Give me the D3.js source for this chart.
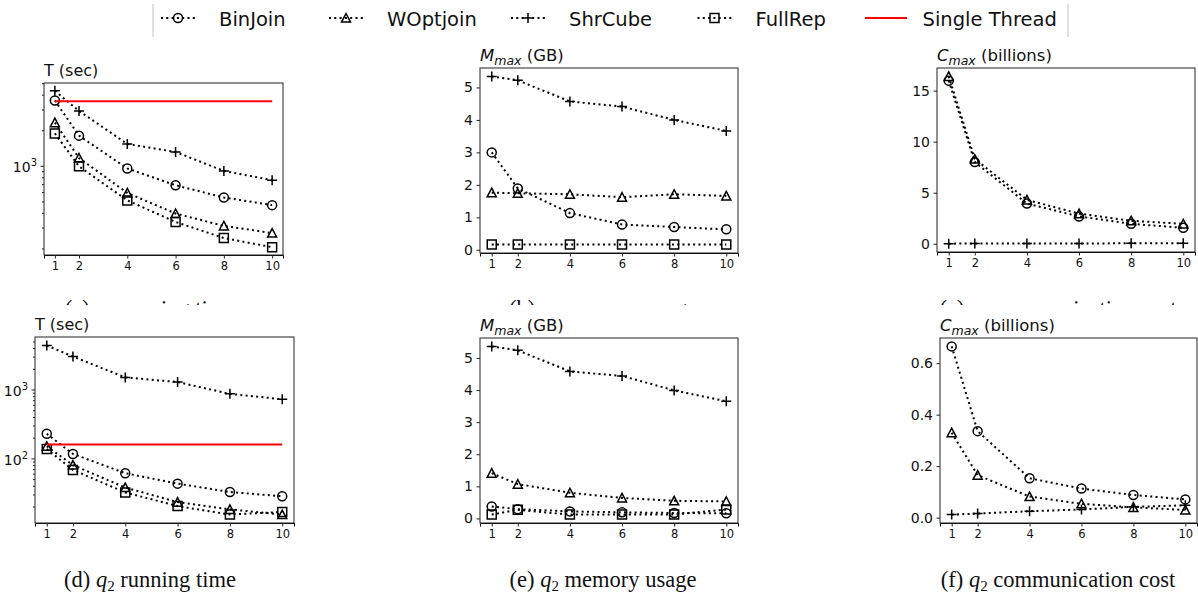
<!DOCTYPE html>
<html>
<head>
<meta charset="utf-8">
<script src="https://cdn.jsdelivr.net/npm/d3@7"></script>
<style>
  body { margin: 0; background: #fff; }
  svg { display: block; }
  text { font-family: "DejaVu Sans", sans-serif; fill: #111; }
</style>
</head>
<body>
<svg id="chart" width="1198" height="600"></svg>
<script>
// x values (number of threads)
const threads = [1, 2, 4, 6, 8, 10];
const seriesNames = ["BinJoin", "WOptjoin", "ShrCube", "FullRep"];
const seriesMarkers = ["circle", "triangle", "plus", "square"];
const singleThreadLabel = "Single Thread";

// q1 running time (sec)
const q1TimeBinJoin = [3570, 1800, 950, 685, 540, 465];
const q1TimeWOptjoin = [2320, 1165, 590, 395, 310, 270];
const q1TimeShrCube = [4310, 2910, 1530, 1310, 905, 755];
const q1TimeFullRep = [1880, 990, 510, 335, 245, 205];
const q1TimeSingle = 3520;

// q1 memory usage (GB)
const q1MemBinJoin = [3.0, 1.89, 1.13, 0.78, 0.70, 0.63];
const q1MemWOptjoin = [1.76, 1.74, 1.71, 1.62, 1.71, 1.66];
const q1MemShrCube = [5.34, 5.22, 4.57, 4.41, 4.0, 3.66];
const q1MemFullRep = [0.16, 0.16, 0.16, 0.16, 0.16, 0.16];

// q1 communication cost (billions)
const q1CommBinJoin = [15.98, 8.0, 3.94, 2.67, 1.95, 1.56];
const q1CommWOptjoin = [16.4, 8.3, 4.3, 2.95, 2.25, 1.95];
const q1CommShrCube = [0.01, 0.015, 0.025, 0.03, 0.04, 0.045];

// q2 running time (sec)
const q2TimeBinJoin = [228, 116, 61, 43, 32.5, 28.2];
const q2TimeWOptjoin = [150, 80, 37.7, 23.2, 18.2, 15.3];
const q2TimeShrCube = [4365, 3010, 1500, 1285, 865, 723];
const q2TimeFullRep = [137, 68, 32, 20.3, 15.3, 16.7];
const q2TimeSingle = 159;

// q2 memory usage (GB)
const q2MemBinJoin = [0.37, 0.29, 0.22, 0.19, 0.17, 0.16];
const q2MemWOptjoin = [1.41, 1.07, 0.80, 0.64, 0.55, 0.53];
const q2MemShrCube = [5.36, 5.24, 4.58, 4.44, 3.99, 3.65];
const q2MemFullRep = [0.12, 0.27, 0.12, 0.12, 0.12, 0.28];

// q2 communication cost (billions)
const q2CommBinJoin = [0.665, 0.336, 0.153, 0.113, 0.088, 0.071];
const q2CommWOptjoin = [0.33, 0.165, 0.082, 0.054, 0.04, 0.03];
const q2CommShrCube = [0.012, 0.016, 0.025, 0.032, 0.042, 0.048];

const memTicks = [0, 1, 2, 3, 4, 5];
const q1CommTicks = [0, 5, 10, 15];
const q2CommTicks = [0, 0.2, 0.4, 0.6];

const svg = d3.select("#chart");

function markerPath(type, s) {
  if (type === "circle") return `M${s},0A${s},${s} 0 1,1 ${-s},0A${s},${s} 0 1,1 ${s},0Z`;
  if (type === "triangle") return `M0,${-s}L${s},${s * 0.9}L${-s},${s * 0.9}Z`;
  if (type === "square") return `M${-s},${-s}H${s}V${s}H${-s}Z`;
  return `M${-s - 0.5},0H${s + 0.5}M0,${-s - 0.5}V${s + 0.5}`;
}

function addTitle(g, p) {
  const t = g.append("text")
    .attr("x", p.box.left)
    .attr("y", p.box.top - 7)
    .style("font-size", "16px");
  if (p.title.sym) {
    t.style("font-size", "16.5px");
    t.append("tspan").text(p.title.sym).style("font-style", "italic");
    t.append("tspan").text("max").style("font-style", "italic")
      .style("font-size", "12.5px").attr("dy", 3.5);
    t.append("tspan").text(" " + p.title.rest).attr("dy", -3.5);
  } else {
    t.text(p.title.rest);
  }
}

function addCaption(p) {
  const t = svg.append("text")
    .attr("x", p.capX).attr("y", p.capY)
    .attr("text-anchor", "middle")
    .style("font-family", "'Liberation Serif', serif")
    .style("font-size", "22.5px");
  t.append("tspan").text(`(${p.caption[0]}) `);
  t.append("tspan").text("q").style("font-style", "italic");
  t.append("tspan").text(p.caption[1]).style("font-size", "15px").attr("dy", 4);
  t.append("tspan").text(" " + p.caption[2]).attr("dy", -4);
}

function drawPanel(p) {
  const g = svg.append("g");
  const b = p.box;
  const x = d3.scaleLinear().domain([0.55, 10.45]).range([b.left, b.right]);

  const allVals = p.series.flatMap(s => s.values).concat(p.single ? [p.single] : []);
  let y;
  if (p.log) {
    const [lo, hi] = d3.extent(allVals).map(Math.log10);
    const pad = (hi - lo) * 0.05;
    y = d3.scaleLog().domain([10 ** (lo - pad), 10 ** (hi + pad)]).range([b.bottom, b.top]);
  } else {
    const [lo, hi] = d3.extent(allVals);
    const pad = (hi - lo) * 0.05;
    y = d3.scaleLinear().domain([lo - pad, hi + pad]).range([b.bottom, b.top]);
  }

  // x axis
  const xa = g.append("g")
    .attr("transform", `translate(0,${b.bottom})`)
    .call(d3.axisBottom(x).tickValues(threads).tickSize(3.5).tickPadding(3.5));
  xa.selectAll("text").style("font-size", "11.5px");

  // y axis
  if (p.log) {
    const [d0, d1] = y.domain();
    const minor = [], major = [];
    for (let k = Math.floor(Math.log10(d0)); k <= Math.ceil(Math.log10(d1)); k++) {
      for (let m = 1; m < 10; m++) {
        const v = m * 10 ** k;
        if (v < d0 || v > d1) continue;
        (m === 1 ? major : minor).push(v);
      }
    }
    g.append("g").attr("transform", `translate(${b.left},0)`)
      .call(d3.axisLeft(y).tickValues(minor).tickSize(2).tickFormat(""))
      .select(".domain").remove();
    const ya = g.append("g").attr("transform", `translate(${b.left},0)`)
      .call(d3.axisLeft(y).tickValues(major).tickSize(3.5).tickFormat(""));
    ya.select(".domain").remove();
    ya.selectAll(".tick").each(function(v) {
      const t = d3.select(this).append("text")
        .attr("x", -7).attr("dy", "0.4em")
        .attr("text-anchor", "end")
        .style("font-size", "14px").attr("fill", "#111");
      t.append("tspan").text("10");
      t.append("tspan").text(Math.round(Math.log10(v)))
        .style("font-size", "10px").attr("dy", -6);
    });
  } else {
    const ya = g.append("g").attr("transform", `translate(${b.left},0)`)
      .call(d3.axisLeft(y).tickValues(p.yTicks).tickFormat(d3.format(p.yFormat))
        .tickSize(3.5).tickPadding(3.5));
    ya.select(".domain").remove();
    ya.selectAll("text").style("font-size", "14px");
  }
  g.selectAll(".tick line").attr("stroke", "#222");
  g.selectAll(".tick text").attr("fill", "#111").style("font-family", "'DejaVu Sans'");

  const line = d3.line().x((d, i) => x(threads[i])).y(d => y(d));

  p.series.forEach(s => {
    g.append("path")
      .datum(s.values)
      .attr("d", line)
      .attr("fill", "none")
      .attr("stroke", "#000")
      .attr("stroke-width", 2)
      .attr("stroke-dasharray", "2,3.3");
    g.selectAll(null)
      .data(s.values)
      .join("path")
      .attr("transform", (d, i) => `translate(${x(threads[i])},${y(d)})`)
      .attr("d", markerPath(s.marker, 4.5))
      .attr("fill", "none")
      .attr("stroke", "#000")
      .attr("stroke-width", 1.5);
  });

  if (p.single) {
    g.append("line")
      .attr("x1", x(threads[0])).attr("x2", x(threads[threads.length - 1]))
      .attr("y1", y(p.single)).attr("y2", y(p.single))
      .attr("stroke", "#f00").attr("stroke-width", 2);
  }

  g.append("rect")
    .attr("x", b.left).attr("y", b.top)
    .attr("width", b.right - b.left).attr("height", b.bottom - b.top)
    .attr("fill", "none").attr("stroke", "#222").attr("stroke-width", 1);

  addTitle(g, p);
}

function series(values) {
  return values.map((v, i) => v ? { name: seriesNames[i], marker: seriesMarkers[i], values: v } : null)
    .filter(Boolean);
}

const topPanels = [
  { box: { left: 44, right: 283, top: 83, bottom: 255 }, log: true,
    series: series([q1TimeBinJoin, q1TimeWOptjoin, q1TimeShrCube, q1TimeFullRep]),
    single: q1TimeSingle, title: { rest: "T (sec)" },
    caption: ["a", "1", "running time"], capX: 150, capY: 316 },
  { box: { left: 480, right: 738, top: 68, bottom: 253 }, log: false,
    series: series([q1MemBinJoin, q1MemWOptjoin, q1MemShrCube, q1MemFullRep]),
    yTicks: memTicks, yFormat: "d", title: { sym: "M", rest: "(GB)" },
    caption: ["b", "1", "memory usage"], capX: 603, capY: 316 },
  { box: { left: 937, right: 1195, top: 68, bottom: 252 }, log: false,
    series: series([q1CommBinJoin, q1CommWOptjoin, q1CommShrCube, null]),
    yTicks: q1CommTicks, yFormat: "d", title: { sym: "C", rest: "(billions)" },
    caption: ["c", "1", "communication cost"], capX: 1058, capY: 316 }
];

const bottomPanels = [
  { box: { left: 35, right: 294, top: 337, bottom: 523 }, log: true,
    series: series([q2TimeBinJoin, q2TimeWOptjoin, q2TimeShrCube, q2TimeFullRep]),
    single: q2TimeSingle, title: { rest: "T (sec)" },
    caption: ["d", "2", "running time"], capX: 150, capY: 587 },
  { box: { left: 480, right: 738, top: 338, bottom: 523 }, log: false,
    series: series([q2MemBinJoin, q2MemWOptjoin, q2MemShrCube, q2MemFullRep]),
    yTicks: memTicks, yFormat: "d", title: { sym: "M", rest: "(GB)" },
    caption: ["e", "2", "memory usage"], capX: 603, capY: 587 },
  { box: { left: 940, right: 1197, top: 338, bottom: 523 }, log: false,
    series: series([q2CommBinJoin, q2CommWOptjoin, q2CommShrCube, null]),
    yTicks: q2CommTicks, yFormat: ".1f", title: { sym: "C", rest: "(billions)" },
    caption: ["f", "2", "communication cost"], capX: 1058, capY: 587 }
];

topPanels.forEach(p => { drawPanel(p); addCaption(p); });

// the lower row sits over the top row's captions
svg.append("rect").attr("x", 0).attr("y", 305).attr("width", 1198).attr("height", 295).attr("fill", "#fff");

bottomPanels.forEach(p => { drawPanel(p); addCaption(p); });

// legend
const legendMarkerX = [178, 346, 528, 714.5];
const legend = svg.append("g");
legend.selectAll("line.edge")
  .data([153, 1068])
  .join("line")
  .attr("x1", d => d).attr("x2", d => d)
  .attr("y1", 4).attr("y2", 37)
  .attr("stroke", "#ccc").attr("stroke-width", 1.2);

seriesNames.forEach((name, i) => {
  const cx = legendMarkerX[i];
  legend.append("line")
    .attr("x1", cx - 17).attr("x2", cx + 17).attr("y1", 18).attr("y2", 18)
    .attr("stroke", "#000").attr("stroke-width", 2).attr("stroke-dasharray", "2,3.3");
  legend.append("path")
    .attr("transform", `translate(${cx},18)`)
    .attr("d", markerPath(seriesMarkers[i], 4.5))
    .attr("fill", "none").attr("stroke", "#000").attr("stroke-width", 1.5);
  legend.append("text")
    .attr("x", cx + 41).attr("y", 25.5)
    .style("font-size", "19.5px")
    .text(name);
});
legend.append("line")
  .attr("x1", 865).attr("x2", 907).attr("y1", 18).attr("y2", 18)
  .attr("stroke", "#f00").attr("stroke-width", 2);
legend.append("text")
  .attr("x", 922.5).attr("y", 25.5)
  .style("font-size", "19.5px")
  .text(singleThreadLabel);
</script>
</body>
</html>
